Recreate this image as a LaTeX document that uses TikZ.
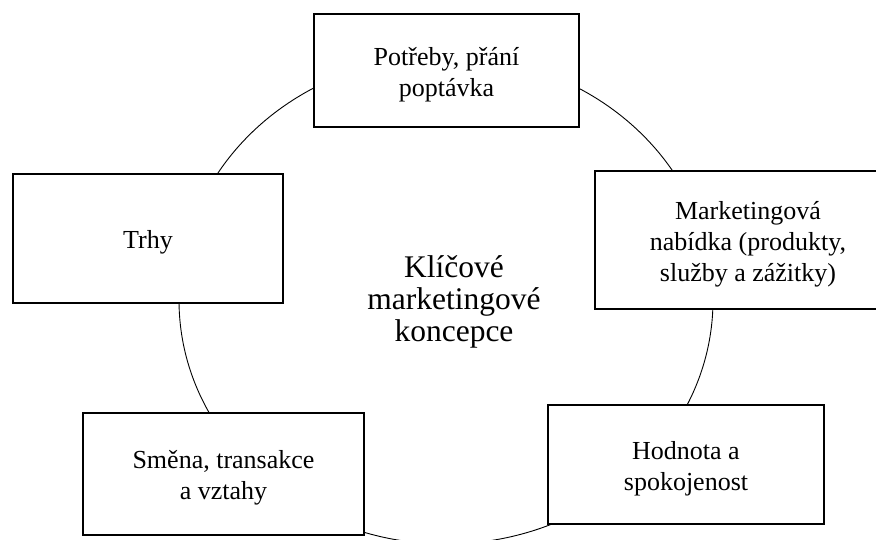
\documentclass[tikz,border=0pt]{standalone}
\usepackage{fontspec}
\setmainfont{Liberation Serif}
\begin{document}
\begin{tikzpicture}[x=1pt,y=-1pt,
  conceptbox/.style={draw=black, line width=2pt, fill=white, rectangle,
    inner sep=0pt},
  concepttext/.style={align=center, inner sep=0pt, yshift=-4pt,
    font=\fontsize{26}{31}\selectfont},
  cycleline/.style={draw=black, line width=0.9pt}]
  \useasboundingbox (0,0) rectangle (876,540);
  \clip (0,0) rectangle (876,540);

  % the cycle running through all concepts
  \draw[cycleline] (446,300) ellipse [x radius=267, y radius=244];

  % the five key concepts
  \node[conceptbox, minimum width=265, minimum height=113] (needs) at (446.5,70.5) {};
  \node[concepttext] (needs-t) at (needs.center) {Potřeby, přání\\poptávka};

  \node[conceptbox, minimum width=306, minimum height=138] (offer) at (748,240) {};
  \node[concepttext] (offer-t) at (offer.center)
    {Marketingová\\nabídka (produkty,\\služby a zážitky)};

  \node[conceptbox, minimum width=276, minimum height=119] (value) at (686,464.5) {};
  \node[concepttext] (value-t) at (value.center) {Hodnota a\\spokojenost};

  \node[conceptbox, minimum width=281, minimum height=122] (exchange) at (223.5,474) {};
  \node[concepttext] (exchange-t) at (exchange.center) {Směna, transakce\\a vztahy};

  \node[conceptbox, minimum width=270, minimum height=129] (markets) at (148,238.5) {};
  \node[concepttext] (markets-t) at (markets.center) {Trhy};

  % central title
  \node[align=center, font=\fontsize{31.5}{32}\selectfont] (title) at (454,302)
    {Klíčové\\marketingové\\koncepce};
\end{tikzpicture}
\end{document}
